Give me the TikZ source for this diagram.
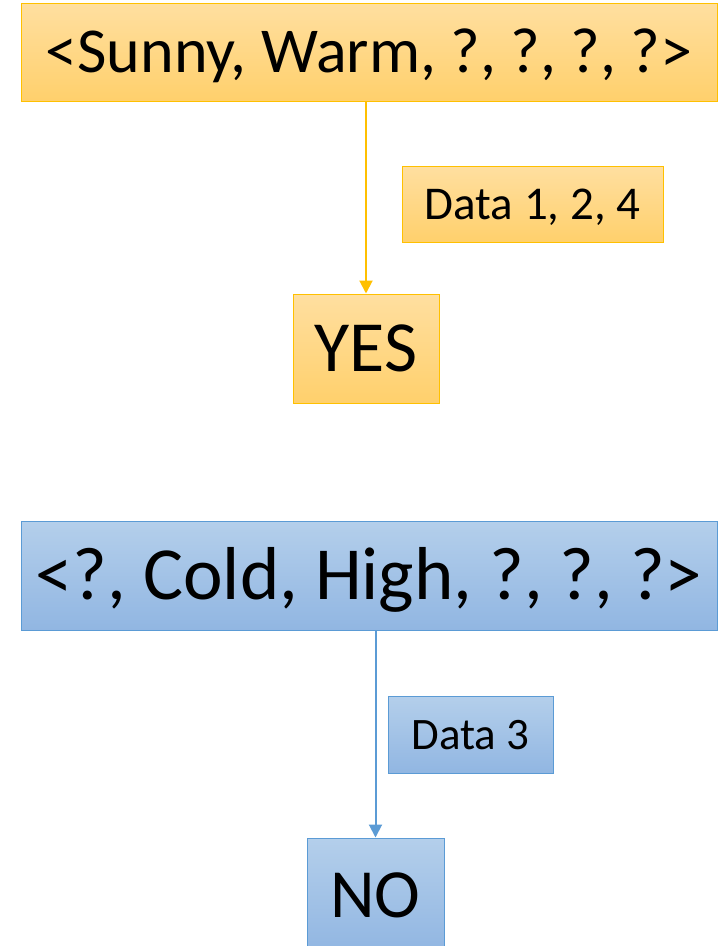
\documentclass[tikz,border=0pt]{standalone}
\usepackage{fontspec}
\setmainfont{Carlito}
\usetikzlibrary{arrows.meta}
\definecolor{goldtop}{HTML}{FFDFA0}
\definecolor{goldbot}{HTML}{FFD06C}
\definecolor{goldline}{HTML}{FFC000}
\definecolor{bluetop}{HTML}{B4CFEB}
\definecolor{bluebot}{HTML}{91B6E2}
\definecolor{blueline}{HTML}{5B9BD5}
\tikzset{
  goldbox/.style={draw=goldline, line width=1pt, top color=goldtop, bottom color=goldbot, inner sep=0pt, text depth=0pt},
  bluebox/.style={draw=blueline, line width=1pt, top color=bluetop, bottom color=bluebot, inner sep=0pt, text depth=0pt},
  goldarrow/.style={draw=goldline, line width=2pt, -{Triangle[width=13pt,length=13pt]}},
  bluearrow/.style={draw=blueline, line width=2pt, -{Triangle[width=13pt,length=13pt]}},
}
\begin{document}
\begin{tikzpicture}[x=1pt,y=-1pt]
\useasboundingbox (0,0) rectangle (719,946);
\node[goldbox, minimum width=696pt, minimum height=98pt, text height=41.2pt, font=\fontsize{64}{70}\selectfont] (h1) at (369,52) {<Sunny, Warm, ?, ?, ?, ?>};
\node[goldbox, minimum width=261pt, minimum height=76pt, text height=30.3pt, font=\fontsize{47}{52}\selectfont] (d1) at (532.5,204) {Data 1, 2, 4};
\node[goldbox, minimum width=146pt, minimum height=109pt, text height=46.4pt, font=\fontsize{72}{80}\selectfont] (yes) at (366,348.5) {YES};
\draw[goldarrow] (h1.south -| yes.north) -- (yes.north);
\node[bluebox, minimum width=696pt, minimum height=109pt, text height=48.3pt, font=\fontsize{75}{82}\selectfont] (h2) at (369,575.5) {<?, Cold, High, ?, ?, ?>};
\node[bluebox, minimum width=165pt, minimum height=77pt, text height=29pt, font=\fontsize{45}{50}\selectfont] (d2) at (470.5,734.5) {Data 3};
\node[bluebox, minimum width=137pt, minimum height=114pt, text height=44.4pt, font=\fontsize{69}{76}\selectfont] (no) at (375.5,895) {NO};
\draw[bluearrow] (h2.south -| no.north) -- (no.north);
\end{tikzpicture}
\end{document}
